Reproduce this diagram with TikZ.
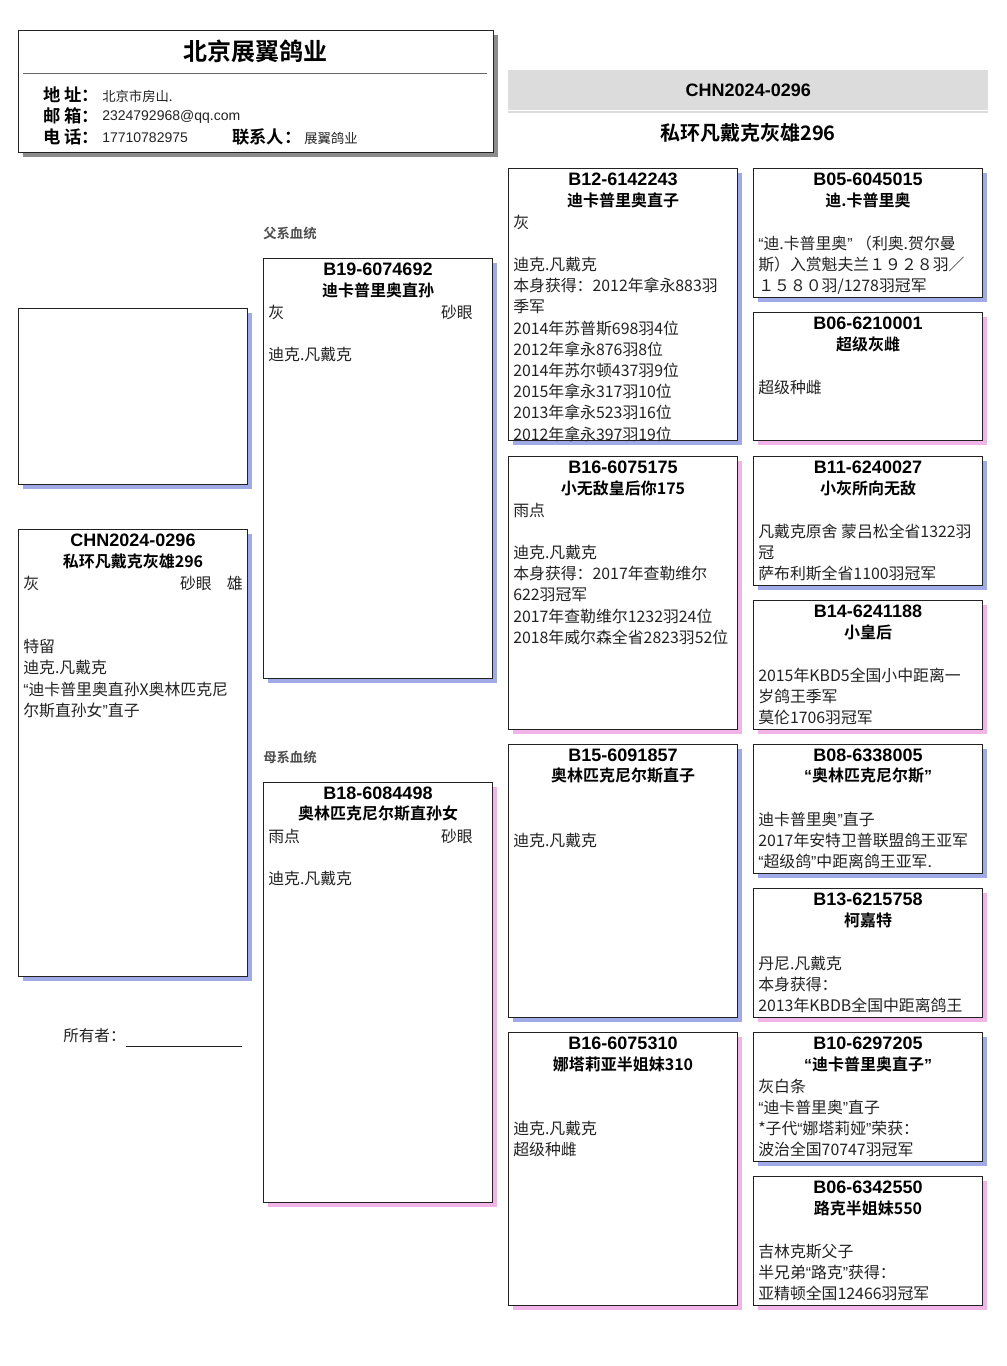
\documentclass[tikz,border=0pt]{standalone}
\usepackage{fontspec}
\setmainfont{Noto Sans CJK SC}[BoldFont={Noto Sans CJK SC Bold}]
\newfontfamily\arial{Liberation Sans}
\usetikzlibrary{shadows}
\definecolor{shblue}{HTML}{A0AAE6}
\definecolor{shpink}{HTML}{F0B4E6}
\definecolor{shgray}{HTML}{8C8C8C}
\definecolor{band}{HTML}{DCDCDC}
\definecolor{ink}{HTML}{222222}
\newcommand\oq{{\arial “}}
\newcommand\cq{{\arial ”}}
\tikzset{
 pbox/.style={draw=ink, line width=0.75pt, fill=white, inner sep=0, anchor=north west},
 shm/.style={drop shadow={shadow xshift=3.2pt, shadow yshift=-3.2pt, fill=shblue, opacity=1}},
 shf/.style={drop shadow={shadow xshift=3.2pt, shadow yshift=-3.2pt, fill=shpink, opacity=1}},
 shg/.style={drop shadow={shadow xshift=3.2pt, shadow yshift=-3.2pt, fill=shgray, opacity=1}},
 ringt/.style={font=\arial\bfseries\fontsize{13.5pt}{16pt}\selectfont, inner sep=0},
 namet/.style={font=\bfseries\fontsize{12pt}{14pt}\selectfont, inner sep=0},
 bodyt/.style={font=\fontsize{11.9pt}{15.9pt}\selectfont, inner sep=0, align=left, anchor=north west, text=ink},
 sidet/.style={font=\fontsize{11.9pt}{15.9pt}\selectfont, inner sep=0, anchor=east, text=ink},
 lbl/.style={font=\bfseries\fontsize{13pt}{15pt}\selectfont, inner sep=0, anchor=west},
 val/.style={font=\fontsize{10pt}{12pt}\selectfont, inner sep=0, anchor=west, text=ink},
 aval/.style={font=\arial\fontsize{10.5pt}{12pt}\selectfont, inner sep=0, anchor=west, text=ink},
 sect/.style={font=\bfseries\fontsize{10pt}{12pt}\selectfont, inner sep=0, anchor=west, text=black!70},
}
\newcommand\pig[8]{%
 \node[pbox, #6, minimum width=#4*0.75pt, minimum height=#5*0.75pt] (#1) at (#2,#3) {};
 \node[ringt] (#1-r) at ([yshift=-11*0.75pt]#1.north) {#7};
 \node[namet] (#1-n) at ([yshift=-32*0.75pt]#1.north) {#8};
}
\newcommand\pigbody[2]{%
 \node[bodyt] (#1-b) at ([xshift=5*0.75pt, yshift=-45*0.75pt]#1.north west) {\strut #2};
}
\begin{document}
\begin{tikzpicture}[x=0.75pt, y=-0.75pt]
\useasboundingbox (0,0) rectangle (1006,1366);
% header
\node[pbox, shg, minimum width=475*0.75pt, minimum height=122*0.75pt] (head) at (18,30) {};
\node[font=\bfseries\fontsize{18pt}{20pt}\selectfont, inner sep=0] (title) at (255,51) {北京展翼鸽业};
\coordinate (sepl) at (23,74);
\coordinate (sepr) at (487,74);
\draw[black!60, line width=0.75pt] (sepl) -- (sepr);
\node[lbl] (l1) at (43,95) {地 址：};
\node[val] (v1) at (102,96) {北京市房山.};
\node[lbl] (l2) at (43,116) {邮 箱：};
\node[aval] (v2) at (102,117) {2324792968@qq.com};
\node[lbl] (l3) at (43,137) {电 话：};
\node[aval] (v3) at (102,138) {17710782975};
\node[lbl] (l4) at (232,137) {联系人：};
\node[val] (v4) at (304,138) {展翼鸽业};
% band
\node[fill=band, inner sep=0, anchor=north west, minimum width=480*0.75pt, minimum height=40*0.75pt] (band) at (508,70) {};
\node[ringt] (bandt) at (band.center) {CHN2024-0296};
\coordinate (bl) at (508,112);
\coordinate (br) at (988,112);
\draw[band, line width=1.5pt] (bl) -- (br);
\node[font=\bfseries\fontsize{15pt}{17pt}\selectfont, inner sep=0] (bigname) at (748,133) {私环凡戴克灰雄296};
% photo
\node[pbox, shm, minimum width=229*0.75pt, minimum height=176*0.75pt] (photo) at (18,308) {};
% main
\pig{main}{18}{529}{229}{447}{shm}{CHN2024-0296}{私环凡戴克灰雄296}
\pigbody{main}{灰\\\strut\\\strut\\特留\\迪克.凡戴克\\\oq 迪卡普里奥直孙X奥林匹克尼\\尔斯直孙女\cq 直子}
\node[sidet] (main-e) at (212,583) {砂眼};
\node[sidet] (main-s) at (243,583) {雄};
\node[font=\fontsize{11.7pt}{14pt}\selectfont, inner sep=0, anchor=west, text=ink] (owner) at (63,1038) {所有者：\rule[-0.35em]{87pt}{0.6pt}};
% generation 1
\node[sect] (fa) at (263,233) {父系血统};
\pig{b19}{263}{258}{229}{420}{shm}{B19-6074692}{迪卡普里奥直孙}
\pigbody{b19}{灰\\\strut\\迪克.凡戴克}
\node[sidet] (b19-e) at (473,312) {砂眼};
\node[sect] (mo) at (263,757) {母系血统};
\pig{b18}{263}{782}{229}{420}{shf}{B18-6084498}{奥林匹克尼尔斯直孙女}
\pigbody{b18}{雨点\\\strut\\迪克.凡戴克}
\node[sidet] (b18-e) at (473,836) {砂眼};
% generation 2
\pig{b12}{508}{168}{229}{272}{shm}{B12-6142243}{迪卡普里奥直子}
\pigbody{b12}{灰\\\strut\\迪克.凡戴克\\本身获得：2012年拿永883羽\\季军\\2014年苏普斯698羽4位\\2012年拿永876羽8位\\2014年苏尔顿437羽9位\\2015年拿永317羽10位\\2013年拿永523羽16位\\2012年拿永397羽19位}
\pig{b16a}{508}{456}{229}{273}{shf}{B16-6075175}{小无敌皇后你175}
\pigbody{b16a}{雨点\\\strut\\迪克.凡戴克\\本身获得：2017年查勒维尔\\622羽冠军\\2017年查勒维尔1232羽24位\\2018年威尔森全省2823羽52位}
\pig{b15}{508}{744}{229}{273}{shm}{B15-6091857}{奥林匹克尼尔斯直子}
\pigbody{b15}{\\\strut\\迪克.凡戴克}
\pig{b16b}{508}{1032}{229}{273}{shf}{B16-6075310}{娜塔莉亚半姐妹310}
\pigbody{b16b}{\\\strut\\迪克.凡戴克\\超级种雌}
% generation 3
\pig{b05}{753}{168}{229}{129}{shm}{B05-6045015}{迪.卡普里奥}
\pigbody{b05}{\\\oq 迪.卡普里奥\cq{} （利奥.贺尔曼\\斯）入赏魁夫兰１９２８羽／\\１５８０羽/1278羽冠军}
\pig{b06a}{753}{312}{229}{128}{shf}{B06-6210001}{超级灰雌}
\pigbody{b06a}{\\超级种雌}
\pig{b11}{753}{456}{229}{129}{shm}{B11-6240027}{小灰所向无敌}
\pigbody{b11}{\\凡戴克原舍 蒙吕松全省1322羽\\冠\\萨布利斯全省1100羽冠军}
\pig{b14}{753}{600}{229}{129}{shf}{B14-6241188}{小皇后}
\pigbody{b14}{\\2015年KBD5全国小中距离一\\岁鸽王季军\\莫伦1706羽冠军}
\pig{b08}{753}{744}{229}{129}{shm}{B08-6338005}{\oq 奥林匹克尼尔斯\cq}
\pigbody{b08}{\\迪卡普里奥\cq 直子\\2017年安特卫普联盟鸽王亚军\\\oq 超级鸽\cq 中距离鸽王亚军.}
\pig{b13}{753}{888}{229}{129}{shf}{B13-6215758}{柯嘉特}
\pigbody{b13}{\\丹尼.凡戴克\\本身获得：\\2013年KBDB全国中距离鸽王}
\pig{b10}{753}{1032}{229}{129}{shm}{B10-6297205}{\oq 迪卡普里奥直子\cq}
\pigbody{b10}{灰白条\\\oq 迪卡普里奥\cq 直子\\*子代\oq 娜塔莉娅\cq 荣获：\\波治全国70747羽冠军}
\pig{b06b}{753}{1176}{229}{129}{shf}{B06-6342550}{路克半姐妹550}
\pigbody{b06b}{\\吉林克斯父子\\半兄弟\oq 路克\cq 获得：\\亚精顿全国12466羽冠军}
\end{tikzpicture}
\end{document}
